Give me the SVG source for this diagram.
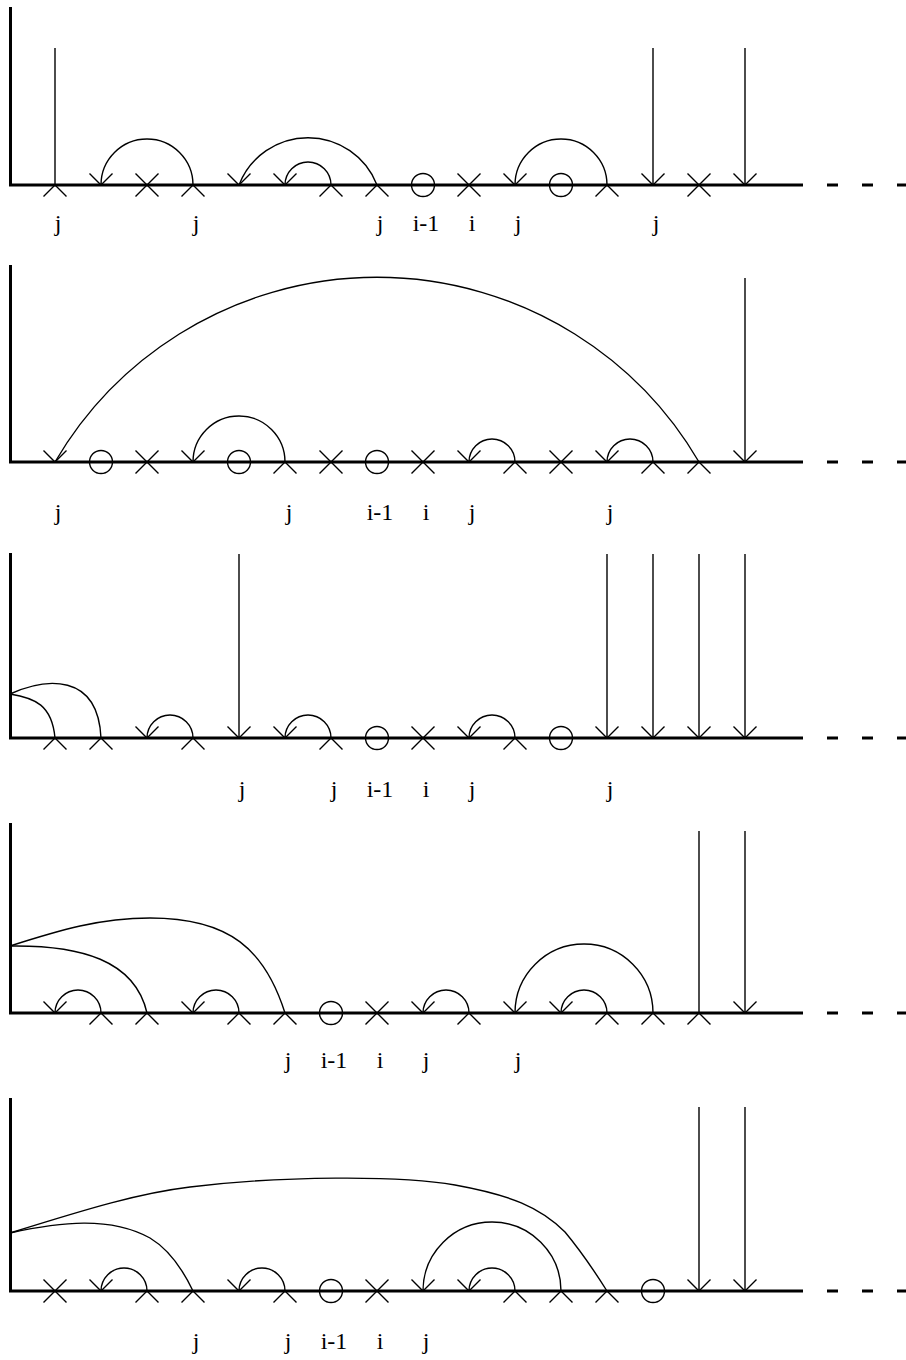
<svg xmlns="http://www.w3.org/2000/svg" width="906" height="1360" viewBox="0 0 906 1360">
<style>
.thick{stroke:#000;stroke-width:3;fill:none}
.dash{stroke:#000;stroke-width:3;fill:none;stroke-dasharray:11 24}
.thin{stroke:#000;stroke-width:1.4;fill:none}
.lbl{font-family:"Liberation Serif","Times New Roman",serif;font-size:24px;fill:#000;text-anchor:middle}
</style>
<defs>
<path id="x" class="thin" d="M-11.5,-11.5 L11.5,11.5 M-11.5,11.5 L11.5,-11.5"/>
<path id="up" class="thin" d="M-11.5,11.5 L0,0 L11.5,11.5"/>
<path id="v" class="thin" d="M-11.5,-11.5 L0,0 L11.5,-11.5"/>
<circle id="o" class="thin" r="11.5" cx="0" cy="0"/>
</defs>
<rect width="906" height="1360" fill="#fff"/>

<!-- Panel 1 -->
<g id="panel1">
<g id="p1-axes"><path class="thick" d="M10.5,7 V185 H803"/><path class="dash" d="M827,185 H908"/></g>
<g id="p1-connectors">
<path class="thin" d="M55,48 V185"/>
<path class="thin" d="M193,185 A46,46 0 0 0 101,185"/>
<path class="thin" d="M377,185 A74,74 0 0 0 239,185"/>
<path class="thin" d="M331,185 A23,23 0 0 0 285,185"/>
<path class="thin" d="M607,185 A46,46 0 0 0 515,185"/>
<path class="thin" d="M653,48 V185"/>
<path class="thin" d="M745,48 V185"/>
</g>
<g id="p1-n0"><use href="#up" x="55" y="185"/></g>
<g id="p1-n1"><use href="#v" x="101" y="185"/></g>
<g id="p1-n2"><use href="#x" x="147" y="185"/></g>
<g id="p1-n3"><use href="#up" x="193" y="185"/></g>
<g id="p1-n4"><use href="#v" x="239" y="185"/></g>
<g id="p1-n5"><use href="#v" x="285" y="185"/></g>
<g id="p1-n6"><use href="#up" x="331" y="185"/></g>
<g id="p1-n7"><use href="#up" x="377" y="185"/></g>
<g id="p1-n8"><use href="#o" x="423" y="185"/></g>
<g id="p1-n9"><use href="#x" x="469" y="185"/></g>
<g id="p1-n10"><use href="#v" x="515" y="185"/></g>
<g id="p1-n11"><use href="#o" x="561" y="185"/></g>
<g id="p1-n12"><use href="#up" x="607" y="185"/></g>
<g id="p1-n13"><use href="#v" x="653" y="185"/></g>
<g id="p1-n14"><use href="#x" x="699" y="185"/></g>
<g id="p1-n15"><use href="#v" x="745" y="185"/></g>
<g id="p1-labels">
<text class="lbl" x="58" y="231">j</text>
<text class="lbl" x="196" y="231">j</text>
<text class="lbl" x="380" y="231">j</text>
<text class="lbl" x="426" y="231">i-1</text>
<text class="lbl" x="472" y="231">i</text>
<text class="lbl" x="518" y="231">j</text>
<text class="lbl" x="656" y="231">j</text>
</g>
</g>

<!-- Panel 2 -->
<g id="panel2">
<g id="p2-axes"><path class="thick" d="M10.5,265 V462 H803"/><path class="dash" d="M827,462 H908"/></g>
<g id="p2-connectors">
<path class="thin" d="M699,462 A373,373 0 0 0 55,462"/>
<path class="thin" d="M285,462 A46,46 0 0 0 193,462"/>
<path class="thin" d="M515,462 A23,23 0 0 0 469,462"/>
<path class="thin" d="M653,462 A23,23 0 0 0 607,462"/>
<path class="thin" d="M745,278 V462"/>
</g>
<g id="p2-n0"><use href="#v" x="55" y="462"/></g>
<g id="p2-n1"><use href="#o" x="101" y="462"/></g>
<g id="p2-n2"><use href="#x" x="147" y="462"/></g>
<g id="p2-n3"><use href="#v" x="193" y="462"/></g>
<g id="p2-n4"><use href="#o" x="239" y="462"/></g>
<g id="p2-n5"><use href="#up" x="285" y="462"/></g>
<g id="p2-n6"><use href="#x" x="331" y="462"/></g>
<g id="p2-n7"><use href="#o" x="377" y="462"/></g>
<g id="p2-n8"><use href="#x" x="423" y="462"/></g>
<g id="p2-n9"><use href="#v" x="469" y="462"/></g>
<g id="p2-n10"><use href="#up" x="515" y="462"/></g>
<g id="p2-n11"><use href="#x" x="561" y="462"/></g>
<g id="p2-n12"><use href="#v" x="607" y="462"/></g>
<g id="p2-n13"><use href="#up" x="653" y="462"/></g>
<g id="p2-n14"><use href="#up" x="699" y="462"/></g>
<g id="p2-n15"><use href="#v" x="745" y="462"/></g>
<g id="p2-labels">
<text class="lbl" x="58" y="520">j</text>
<text class="lbl" x="289" y="520">j</text>
<text class="lbl" x="380" y="520">i-1</text>
<text class="lbl" x="426" y="520">i</text>
<text class="lbl" x="472" y="520">j</text>
<text class="lbl" x="610" y="520">j</text>
</g>
</g>

<!-- Panel 3 -->
<g id="panel3">
<g id="p3-axes"><path class="thick" d="M10.5,553 V738 H803"/><path class="dash" d="M827,738 H908"/></g>
<g id="p3-connectors">
<path class="thin" d="M10,694 C35,698 52,705 55,738"/>
<path class="thin" d="M10,694 C45,678 98,672 101,738"/>
<path class="thin" d="M193,738 A23,23 0 0 0 147,738"/>
<path class="thin" d="M331,738 A23,23 0 0 0 285,738"/>
<path class="thin" d="M515,738 A23,23 0 0 0 469,738"/>
<path class="thin" d="M239,554 V738"/>
<path class="thin" d="M607,554 V738"/>
<path class="thin" d="M653,554 V738"/>
<path class="thin" d="M699,554 V738"/>
<path class="thin" d="M745,554 V738"/>
</g>
<g id="p3-n0"><use href="#up" x="55" y="738"/></g>
<g id="p3-n1"><use href="#up" x="101" y="738"/></g>
<g id="p3-n2"><use href="#v" x="147" y="738"/></g>
<g id="p3-n3"><use href="#up" x="193" y="738"/></g>
<g id="p3-n4"><use href="#v" x="239" y="738"/></g>
<g id="p3-n5"><use href="#v" x="285" y="738"/></g>
<g id="p3-n6"><use href="#up" x="331" y="738"/></g>
<g id="p3-n7"><use href="#o" x="377" y="738"/></g>
<g id="p3-n8"><use href="#x" x="423" y="738"/></g>
<g id="p3-n9"><use href="#v" x="469" y="738"/></g>
<g id="p3-n10"><use href="#up" x="515" y="738"/></g>
<g id="p3-n11"><use href="#o" x="561" y="738"/></g>
<g id="p3-n12"><use href="#v" x="607" y="738"/></g>
<g id="p3-n13"><use href="#v" x="653" y="738"/></g>
<g id="p3-n14"><use href="#v" x="699" y="738"/></g>
<g id="p3-n15"><use href="#v" x="745" y="738"/></g>
<g id="p3-labels">
<text class="lbl" x="242" y="797">j</text>
<text class="lbl" x="334" y="797">j</text>
<text class="lbl" x="380" y="797">i-1</text>
<text class="lbl" x="426" y="797">i</text>
<text class="lbl" x="472" y="797">j</text>
<text class="lbl" x="610" y="797">j</text>
</g>
</g>

<!-- Panel 4 -->
<g id="panel4">
<g id="p4-axes"><path class="thick" d="M10.5,823 V1013 H803"/><path class="dash" d="M827,1013 H908"/></g>
<g id="p4-connectors">
<path class="thin" d="M10,946 C80,945 135,960 147,1013"/>
<path class="thin" d="M10,946 C60,930 100,918 150,918 C230,918 265,950 285,1013"/>
<path class="thin" d="M101,1013 A23,23 0 0 0 55,1013"/>
<path class="thin" d="M239,1013 A23,23 0 0 0 193,1013"/>
<path class="thin" d="M469,1013 A23,23 0 0 0 423,1013"/>
<path class="thin" d="M607,1013 A23,23 0 0 0 561,1013"/>
<path class="thin" d="M653,1013 A69,69 0 0 0 515,1013"/>
<path class="thin" d="M699,831 V1013"/>
<path class="thin" d="M745,831 V1013"/>
</g>
<g id="p4-n0"><use href="#v" x="55" y="1013"/></g>
<g id="p4-n1"><use href="#up" x="101" y="1013"/></g>
<g id="p4-n2"><use href="#up" x="147" y="1013"/></g>
<g id="p4-n3"><use href="#v" x="193" y="1013"/></g>
<g id="p4-n4"><use href="#up" x="239" y="1013"/></g>
<g id="p4-n5"><use href="#up" x="285" y="1013"/></g>
<g id="p4-n6"><use href="#o" x="331" y="1013"/></g>
<g id="p4-n7"><use href="#x" x="377" y="1013"/></g>
<g id="p4-n8"><use href="#v" x="423" y="1013"/></g>
<g id="p4-n9"><use href="#up" x="469" y="1013"/></g>
<g id="p4-n10"><use href="#v" x="515" y="1013"/></g>
<g id="p4-n11"><use href="#v" x="561" y="1013"/></g>
<g id="p4-n12"><use href="#up" x="607" y="1013"/></g>
<g id="p4-n13"><use href="#up" x="653" y="1013"/></g>
<g id="p4-n14"><use href="#up" x="699" y="1013"/></g>
<g id="p4-n15"><use href="#v" x="745" y="1013"/></g>
<g id="p4-labels">
<text class="lbl" x="288" y="1068">j</text>
<text class="lbl" x="334" y="1068">i-1</text>
<text class="lbl" x="380" y="1068">i</text>
<text class="lbl" x="426" y="1068">j</text>
<text class="lbl" x="518" y="1068">j</text>
</g>
</g>

<!-- Panel 5 -->
<g id="panel5">
<g id="p5-axes"><path class="thick" d="M10.5,1098 V1291 H803"/><path class="dash" d="M827,1291 H908"/></g>
<g id="p5-connectors">
<path class="thin" d="M10,1233 C60,1222 110,1216 150,1238 C170,1250 183,1270 193,1291"/>
<path class="thin" d="M10,1233 C90,1208 140,1193 190,1187 C280,1176 400,1175 455,1185 C510,1195 540,1207 565,1232 C580,1250 595,1272 607,1291"/>
<path class="thin" d="M147,1291 A23,23 0 0 0 101,1291"/>
<path class="thin" d="M285,1291 A23,23 0 0 0 239,1291"/>
<path class="thin" d="M515,1291 A23,23 0 0 0 469,1291"/>
<path class="thin" d="M561,1291 A69,69 0 0 0 423,1291"/>
<path class="thin" d="M699,1107 V1291"/>
<path class="thin" d="M745,1107 V1291"/>
</g>
<g id="p5-n0"><use href="#x" x="55" y="1291"/></g>
<g id="p5-n1"><use href="#v" x="101" y="1291"/></g>
<g id="p5-n2"><use href="#up" x="147" y="1291"/></g>
<g id="p5-n3"><use href="#up" x="193" y="1291"/></g>
<g id="p5-n4"><use href="#v" x="239" y="1291"/></g>
<g id="p5-n5"><use href="#up" x="285" y="1291"/></g>
<g id="p5-n6"><use href="#o" x="331" y="1291"/></g>
<g id="p5-n7"><use href="#x" x="377" y="1291"/></g>
<g id="p5-n8"><use href="#v" x="423" y="1291"/></g>
<g id="p5-n9"><use href="#v" x="469" y="1291"/></g>
<g id="p5-n10"><use href="#up" x="515" y="1291"/></g>
<g id="p5-n11"><use href="#up" x="561" y="1291"/></g>
<g id="p5-n12"><use href="#up" x="607" y="1291"/></g>
<g id="p5-n13"><use href="#o" x="653" y="1291"/></g>
<g id="p5-n14"><use href="#v" x="699" y="1291"/></g>
<g id="p5-n15"><use href="#v" x="745" y="1291"/></g>
<g id="p5-labels">
<text class="lbl" x="196" y="1349">j</text>
<text class="lbl" x="288" y="1349">j</text>
<text class="lbl" x="334" y="1349">i-1</text>
<text class="lbl" x="380" y="1349">i</text>
<text class="lbl" x="426" y="1349">j</text>
</g>
</g>
</svg>
